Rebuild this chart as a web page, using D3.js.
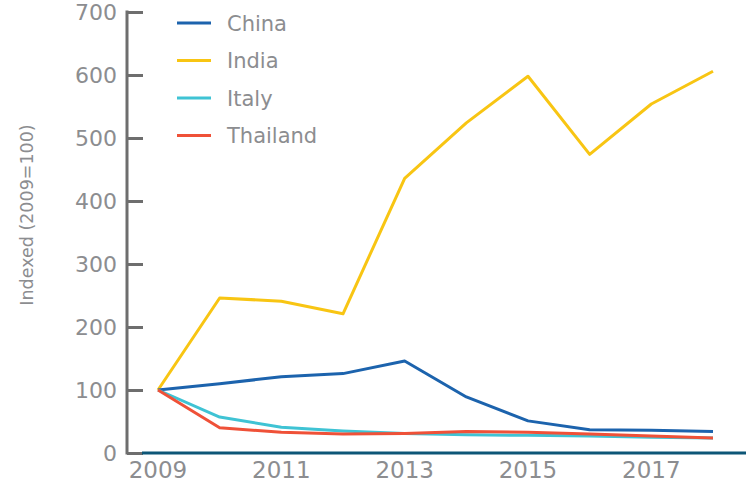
<!DOCTYPE html>
<html>
<head>
<meta charset="utf-8">
<script src="https://cdn.jsdelivr.net/npm/d3@7"></script>
<style>
  body { margin: 0; background: #fff; }
  text { font-family: "DejaVu Sans", sans-serif; fill: #8c8d90; }
</style>
</head>
<body>
<script>
var width = 754;
var height = 483;

// data
var years = [2009, 2010, 2011, 2012, 2013, 2014, 2015, 2016, 2017, 2018];
var china = [100, 110, 121, 126, 146, 89, 51, 37, 36, 34];
var india = [100, 246, 241, 221, 436, 524, 598, 474, 554, 606];
var italy = [100, 57, 41, 35, 31, 29, 28, 27, 25, 24];
var thailand = [100, 40, 33, 30, 31, 34, 33, 30, 27, 24];
var seriesNames = ['China', 'India', 'Italy', 'Thailand'];
var yTicks = [0, 100, 200, 300, 400, 500, 600, 700];
var xTicks = [2009, 2011, 2013, 2015, 2017];

var colors = {
  China: '#1c63ad',
  India: '#f8c513',
  Italy: '#3fc3d4',
  Thailand: '#ef5138'
};

var series = [
  { name: 'China', values: china },
  { name: 'India', values: india },
  { name: 'Italy', values: italy },
  { name: 'Thailand', values: thailand }
];

var svg = d3.select('body').append('svg')
  .attr('width', width)
  .attr('height', height);

var x = d3.scaleLinear().domain([2009, 2018]).range([158, 713]);
var y = d3.scaleLinear().domain([0, 700]).range([453, 12]);

// y axis (grey line with ticks pointing right)
var yAxis = svg.append('g')
  .attr('transform', 'translate(127,0)')
  .call(d3.axisRight(y).tickValues(yTicks).tickSize(16).tickFormat(''));
yAxis.select('.domain').remove();
yAxis.selectAll('.tick line').attr('stroke', '#6e6e6e').attr('stroke-width', 3);
svg.append('line')
  .attr('x1', 127).attr('x2', 127)
  .attr('y1', y(700) - 1.5).attr('y2', y(0) + 1.5)
  .attr('stroke', '#6e6e6e').attr('stroke-width', 3);

svg.selectAll('.ylab')
  .data(yTicks)
  .enter().append('text')
  .attr('class', 'ylab')
  .attr('x', 117)
  .attr('y', function(d) { return y(d); })
  .attr('dy', '0.36em')
  .attr('text-anchor', 'end')
  .style('font-size', '22px')
  .text(function(d) { return d; });

// x axis (dark teal baseline)
svg.append('line')
  .attr('x1', 142).attr('x2', 746)
  .attr('y1', y(0)).attr('y2', y(0))
  .attr('stroke', '#0d5677').attr('stroke-width', 3);

svg.selectAll('.xlab')
  .data(xTicks)
  .enter().append('text')
  .attr('class', 'xlab')
  .attr('x', function(d) { return x(d); })
  .attr('y', 478)
  .attr('text-anchor', 'middle')
  .style('font-size', '23px')
  .text(function(d) { return d; });

svg.append('text')
  .attr('transform', 'translate(33,215) rotate(-90)')
  .attr('text-anchor', 'middle')
  .style('font-size', '17.5px')
  .text('Indexed (2009=100)');

var line = d3.line()
  .x(function(d, i) { return x(years[i]); })
  .y(function(d) { return y(d); });

var drawOrder = ['India', 'China', 'Italy', 'Thailand'];
drawOrder.forEach(function(name) {
  var s = series.filter(function(d) { return d.name === name; })[0];
  svg.append('path')
    .datum(s.values)
    .attr('d', line)
    .attr('fill', 'none')
    .attr('stroke', colors[name])
    .attr('stroke-width', 3)
    .attr('stroke-linejoin', 'round');
});

// legend
var legend = svg.append('g');
seriesNames.forEach(function(name, i) {
  var ly = 23 + i * 37.5;
  legend.append('line')
    .attr('x1', 177).attr('x2', 211)
    .attr('y1', ly).attr('y2', ly)
    .attr('stroke', colors[name])
    .attr('stroke-width', 3);
  legend.append('text')
    .attr('x', 227)
    .attr('y', ly)
    .attr('dy', '0.36em')
    .style('font-size', '21px')
    .text(name);
});
</script>
</body>
</html>
